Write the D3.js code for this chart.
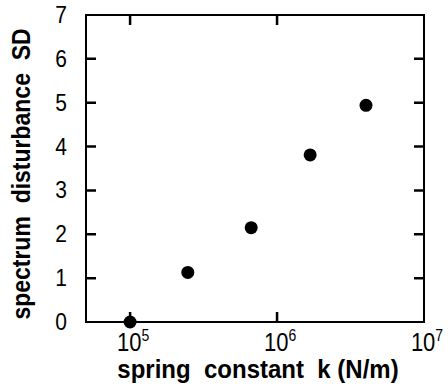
<!DOCTYPE html>
<html>
<head>
<meta charset="utf-8">
<script src="https://cdn.jsdelivr.net/npm/d3@7"></script>
<style>
  body { margin: 0; background: #fff; }
  svg { display: block; font-family: "Liberation Sans", Arial, sans-serif; }
  .title { white-space: pre; }
</style>
</head>
<body>
<svg id="chart" width="448" height="387"></svg>
<script>
// spring constant k (N/m) and spectrum disturbance SD
const springK = [1.0e5, 2.47e5, 6.67e5, 1.68e6, 4.03e6];
const disturbance = [0, 1.13, 2.15, 3.81, 4.94];
const xTickValues = [1e5, 1e6, 1e7];
const xTickExp = ["5", "6", "7"];
const yTickValues = [0, 1, 2, 3, 4, 5, 6, 7];

const margin = { left: 86, right: 24, top: 15, bottom: 65 };
const width = 448, height = 387;

const svg = d3.select("#chart");

const x = d3.scaleLog()
  .domain([Math.pow(10, 4.7), 1e7])
  .range([margin.left, width - margin.right]);
const y = d3.scaleLinear()
  .domain([0, 7])
  .range([height - margin.bottom, margin.top]);

const tickLen = 10;
const [x0, x1] = x.range();
const [yb, yt] = y.range();

// inward ticks on all four sides
const xInner = xTickValues.filter((d) => x(d) < x1 - 1);
const yInner = yTickValues.filter((d) => d > 0 && d < 7);
const tickPaths = [];
xInner.forEach((d) => {
  const px = x(d);
  tickPaths.push(`M${px},${yb}V${yb - tickLen}`);
  tickPaths.push(`M${px},${yt}V${yt + tickLen}`);
});
yInner.forEach((d) => {
  const py = y(d);
  tickPaths.push(`M${x0},${py}H${x0 + tickLen}`);
  tickPaths.push(`M${x1},${py}H${x1 - tickLen}`);
});
svg.append("path")
  .attr("class", "ticks")
  .attr("d", tickPaths.join(""))
  .attr("fill", "none")
  .attr("stroke", "#000")
  .attr("stroke-width", 2.5);

svg.append("rect")
  .attr("x", x0)
  .attr("y", yt)
  .attr("width", x1 - x0)
  .attr("height", yb - yt)
  .attr("fill", "none")
  .attr("stroke", "#000")
  .attr("stroke-width", 2);

// y tick labels (tall, condensed look)
svg.append("g")
  .selectAll("text")
  .data(yTickValues)
  .join("text")
  .attr("transform", (d) => `translate(61,${y(d) + 8}) scale(1,1.15)`)
  .attr("text-anchor", "middle")
  .attr("font-size", 21)
  .text((d) => d);

// x tick labels with superscripts
const xl = svg.append("g")
  .selectAll("text")
  .data(xTickValues)
  .join("text")
  .attr("transform", (d) => `translate(${x(d) + 3},351) scale(1,1.15)`)
  .attr("text-anchor", "middle")
  .attr("font-size", 22);
xl.append("tspan").text("10");
xl.append("tspan")
  .attr("dy", -9)
  .attr("font-size", 14)
  .text((d, i) => xTickExp[i]);

// axis titles
svg.append("text")
  .attr("class", "title")
  .attr("transform", "translate(258,378) scale(1,1.1)")
  .attr("text-anchor", "middle")
  .attr("font-size", 24)
  .attr("font-weight", "bold")
  .text("spring  constant  k (N/m)");

svg.append("text")
  .attr("class", "title")
  .attr("transform", "translate(30,174) rotate(-90) scale(1,1.12)")
  .attr("text-anchor", "middle")
  .attr("font-size", 23)
  .attr("font-weight", "bold")
  .text("spectrum  disturbance  SD");

// data points
svg.append("g")
  .selectAll("circle")
  .data(springK)
  .join("circle")
  .attr("cx", (d) => x(d))
  .attr("cy", (d, i) => y(disturbance[i]))
  .attr("r", 6.5)
  .attr("fill", "#000");
</script>
</body>
</html>
